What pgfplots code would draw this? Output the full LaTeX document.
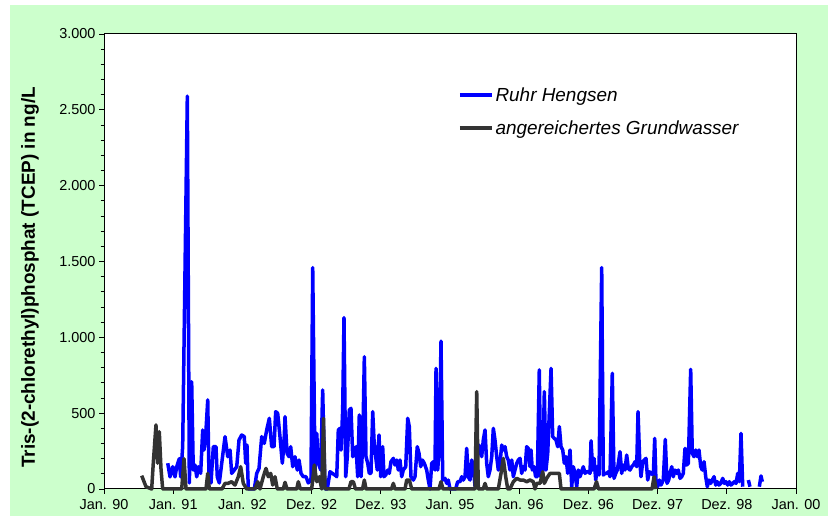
\documentclass[border=0pt]{standalone}
\usepackage{pgfplots}
\pgfplotsset{compat=1.18}
\usepackage{fontspec}
\setmainfont{Liberation Sans}
\definecolor{bggreen}{HTML}{CCFFCC}
\definecolor{gw}{HTML}{333333}
\begin{document}
\begin{tikzpicture}[x=1bp,y=1bp]
\fill[white] (0,0) rectangle (828,516);
\fill[bggreen] (10,0) rectangle (828,511);
\begin{axis}[at={(104bp,27bp)}, anchor=south west, scale only axis,
  width=692bp, height=455bp,
  xmin=1990, xmax=2000, ymin=0, ymax=3000,
  axis background/.style={fill=white},
  xtick={1990,1991,...,2000},
  xticklabels={Jan. 90, Jan. 91, Jan. 92, Dez. 92, Dez. 93, Jan. 95, Jan. 96, Dez. 96, Dez. 97, Dez. 98, Jan. 00},
  ytick={0,500,...,3000},
  minor x tick num=3, minor y tick num=4,
  tick align=outside, xtick pos=bottom, ytick pos=left,
  major tick length=5bp, minor tick length=3.5bp,
  tick style={black, line width=0.8bp},
  axis line style={black, line width=1bp},
  ticklabel style={font=\fontsize{14.5}{16}\selectfont},
  xticklabel style={yshift=-1.5bp},
  scaled y ticks=false,
  /pgf/number format/1000 sep={.},
  /pgf/number format/assume math mode=true,
  ylabel={Tris-(2-chlorethyl)phosphat (TCEP) in ng/L},
  ylabel style={font=\bfseries\fontsize{19}{21}\selectfont, at={(axis description cs:-0.107,0.465)}, anchor=center},
  legend style={draw=none, fill=none, at={(axis description cs:0.507,0.892)}, anchor=north west,
    font=\itshape\fontsize{19}{21}\selectfont, row sep=14bp},
  legend cell align=left,
  legend image code/.code={\draw[#1, line width=3.5bp] (0bp,0bp) -- (32bp,0bp);},
  unbounded coords=jump,
  clip=false,
]
\addplot[blue, line width=3.5bp, line join=round] coordinates {
(1990.921,170) (1990.954,80) (1990.993,147) (1991.026,80) (1991.051,147) (1991.088,200) (1991.108,80) (1991.137,280) (1991.204,2590) (1991.233,40) (1991.267,707) (1991.290,125) (1991.315,158) (1991.340,80) (1991.363,147) (1991.397,103) (1991.426,389) (1991.445,257) (1991.474,389) (1991.499,587) (1991.517,80) (1991.546,40) (1991.580,280) (1991.618,280) (1991.637,80) (1991.666,40) (1991.749,345) (1991.788,213) (1991.821,257) (1991.845,103) (1991.883,125) (1991.918,147) (1991.951,323) (1991.990,356) (1992.027,345) (1992.048,170) (1992.066,290) (1992.085,0) (1992.172,0) (1992.207,103) (1992.240,136) (1992.279,345) (1992.316,301) (1992.351,389) (1992.389,466) (1992.423,279) (1992.457,279) (1992.481,510) (1992.510,499) (1992.543,345) (1992.577,170) (1992.601,301) (1992.616,477) (1992.645,235) (1992.673,213) (1992.698,279) (1992.727,147) (1992.760,213) (1992.793,125) (1992.818,191) (1992.847,103) (1992.880,81) (1992.919,81) (1992.952,40) (1992.991,59) (1993.016,1460) (1993.049,125) (1993.074,367) (1993.097,170) (1993.132,125) (1993.160,653) (1993.184,170) (1993.194,0) (1993.227,0) (1993.266,114) (1993.299,103) (1993.338,92) (1993.363,81) (1993.386,389) (1993.410,400) (1993.425,257) (1993.449,521) (1993.468,1130) (1993.493,81) (1993.516,213) (1993.545,521) (1993.569,532) (1993.594,213) (1993.617,235) (1993.642,279) (1993.666,81) (1993.689,488) (1993.714,81) (1993.738,279) (1993.762,872) (1993.786,213) (1993.811,169) (1993.834,103) (1993.858,103) (1993.883,510) (1993.902,323) (1993.926,213) (1993.949,125) (1993.974,356) (1993.999,81) (1994.027,279) (1994.046,81) (1994.071,92) (1994.100,125) (1994.123,103) (1994.147,180) (1994.181,202) (1994.205,158) (1994.230,191) (1994.253,125) (1994.277,191) (1994.302,81) (1994.325,125) (1994.360,147) (1994.389,466) (1994.412,411) (1994.436,81) (1994.470,59) (1994.494,81) (1994.527,279) (1994.552,235) (1994.577,147) (1994.600,191) (1994.629,169) (1994.663,125) (1994.686,59) (1994.711,0) (1994.736,169) (1994.759,180) (1994.783,125) (1994.798,795) (1994.822,125) (1994.845,279) (1994.870,975) (1994.895,59) (1994.928,70) (1994.952,37) (1994.975,59) (1995.000,0) (1995.082,0) (1995.111,48) (1995.145,48) (1995.169,81) (1995.192,59) (1995.217,81) (1995.241,268) (1995.264,81) (1995.289,59) (1995.314,191) (1995.337,147) (1995.361,20) (1995.409,290) (1995.434,279) (1995.458,213) (1995.481,323) (1995.506,389) (1995.530,169) (1995.553,81) (1995.578,125) (1995.603,213) (1995.626,400) (1995.650,323) (1995.675,213) (1995.698,125) (1995.723,169) (1995.747,290) (1995.770,257) (1995.795,279) (1995.819,213) (1995.842,191) (1995.867,125) (1995.892,191) (1995.915,81) (1995.939,125) (1995.964,169) (1995.987,191) (1996.012,202) (1996.036,103) (1996.059,147) (1996.084,125) (1996.108,279) (1996.131,268) (1996.156,147) (1996.171,257) (1996.189,125) (1996.214,147) (1996.238,81) (1996.262,81) (1996.290,785) (1996.311,81) (1996.340,125) (1996.363,642) (1996.387,125) (1996.412,235) (1996.460,795) (1996.484,345) (1996.507,334) (1996.532,323) (1996.556,279) (1996.580,411) (1996.604,279) (1996.629,257) (1996.652,169) (1996.676,213) (1996.701,103) (1996.734,257) (1996.759,15) (1996.782,147) (1996.806,103) (1996.831,15) (1996.854,125) (1996.879,81) (1996.903,114) (1996.926,147) (1996.951,103) (1996.975,114) (1996.999,114) (1997.023,103) (1997.038,318) (1997.062,125) (1997.081,202) (1997.106,59) (1997.129,147) (1997.153,92) (1997.192,1460) (1997.215,92) (1997.240,103) (1997.264,103) (1997.288,114) (1997.312,81) (1997.345,763) (1997.370,70) (1997.395,103) (1997.418,125) (1997.457,246) (1997.481,103) (1997.504,158) (1997.529,125) (1997.553,224) (1997.577,136) (1997.601,125) (1997.626,147) (1997.649,158) (1997.673,180) (1997.698,147) (1997.717,510) (1997.741,191) (1997.760,81) (1997.785,180) (1997.808,191) (1997.832,202) (1997.857,59) (1997.880,114) (1997.905,103) (1997.938,92) (1997.958,334) (1997.977,37) (1998.001,15) (1998.025,59) (1998.049,26) (1998.082,59) (1998.111,327) (1998.136,37) (1998.160,59) (1998.179,103) (1998.204,147) (1998.227,81) (1998.251,125) (1998.276,103) (1998.299,125) (1998.324,70) (1998.348,81) (1998.371,103) (1998.396,268) (1998.421,158) (1998.444,169) (1998.478,789) (1998.501,235) (1998.526,213) (1998.551,257) (1998.574,213) (1998.598,257) (1998.623,147) (1998.646,125) (1998.671,180) (1998.695,81) (1998.718,15) (1998.743,59) (1998.767,37) (1998.790,59) (1998.815,81) (1998.840,26) (1998.863,48) (1998.887,26) (1998.912,37) (1998.941,70) (1998.964,37) (1998.988,48) (1999.013,26) (1999.036,48) (1999.061,26) (1999.085,37) (1999.108,48) (1999.133,37) (1999.158,103) (1999.181,48) (1999.205,367) (1999.230,15) (1999.270,nan) (1999.311,59) (1999.335,15) (1999.400,nan) (1999.470,15) (1999.494,86) (1999.513,48)
};
\addlegendentry{Ruhr Hengsen}
\addplot[gw, line width=3.5bp, line join=round] coordinates {
(1990.545,88) (1990.607,15) (1990.689,0) (1990.712,170) (1990.751,422) (1990.776,170) (1990.799,378) (1990.824,130) (1990.848,0) (1991.123,0) (1991.156,200) (1991.185,0) (1991.474,0) (1991.499,103) (1991.522,0) (1991.705,0) (1991.749,37) (1991.792,37) (1991.845,48) (1991.893,26) (1991.941,81) (1991.975,147) (1992.013,37) (1992.062,0) (1992.182,0) (1992.221,48) (1992.254,0) (1992.302,81) (1992.341,136) (1992.374,81) (1992.409,103) (1992.438,26) (1992.471,81) (1992.504,0) (1992.591,0) (1992.616,44) (1992.645,0) (1992.785,0) (1992.808,48) (1992.837,0) (1993.001,0) (1993.039,158) (1993.074,48) (1993.111,81) (1993.146,0) (1993.172,466) (1993.194,0) (1993.540,0) (1993.569,48) (1993.603,48) (1993.634,0) (1993.736,0) (1993.762,59) (1993.786,0) (1994.155,0) (1994.181,37) (1994.205,0) (1994.350,0) (1994.374,59) (1994.412,59) (1994.447,0) (1994.841,0) (1994.870,48) (1994.899,0) (1995.361,0) (1995.386,642) (1995.409,0) (1995.481,0) (1995.506,37) (1995.530,0) (1995.698,0) (1995.737,103) (1995.770,202) (1995.805,81) (1995.834,0) (1995.867,0) (1995.915,48) (1995.964,70) (1996.012,59) (1996.059,59) (1996.108,48) (1996.156,59) (1996.204,48) (1996.228,0) (1996.253,37) (1996.301,37) (1996.340,114) (1996.363,37) (1996.397,70) (1996.445,103) (1996.493,103) (1996.542,103) (1996.580,103) (1996.604,0) (1997.081,0) (1997.117,48) (1997.146,0) (1997.919,0) (1997.948,80) (1997.977,0)
};
\addlegendentry{angereichertes Grundwasser}
\end{axis}
\end{tikzpicture}
\end{document}
